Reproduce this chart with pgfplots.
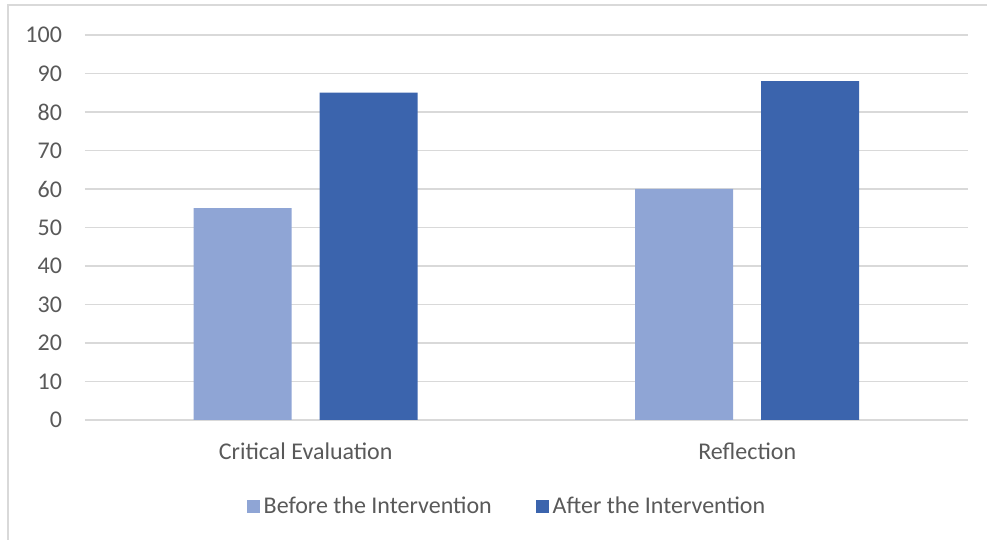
\documentclass[border=0pt]{standalone}
\usepackage{pgfplots}
\pgfplotsset{compat=1.18}
\usepackage{fontspec}
\setmainfont{Carlito}
\definecolor{txt}{HTML}{595959}
\definecolor{grd}{HTML}{D9D9D9}
\definecolor{before}{RGB}{143,165,213}
\definecolor{after}{RGB}{59,100,173}

\begin{document}
\begin{tikzpicture}
% page frame, 1px = 0.5pt
\path[use as bounding box] (-42.5pt,-60pt) rectangle (451pt,210pt);
\draw[grd, line width=1pt] (-38.5pt,-60pt) -- (-38.5pt,207.5pt) -- (451pt,207.5pt);
\begin{axis}[
  at={(0,0)}, anchor=south west,
  width=441.5pt, height=192.5pt, scale only axis,
  ybar=14pt, bar width=49pt,
  xmin=-0.5, xmax=1.5, ymin=0, ymax=100,
  xtick=data, xticklabels={Critical Evaluation, Reflection},
  ytick={0,10,...,100},
  ymajorgrids, grid style={grd, line width=0.8pt},
  axis x line*=bottom, axis y line*=left,
  x axis line style={grd, line width=0.8pt, -},
  y axis line style={draw=none},
  major tick length=0pt,
  tick label style={font=\fontsize{12}{14}\selectfont, text=txt},
  /pgf/number format/assume math mode=true,
  yticklabel style={anchor=east, xshift=-8pt},
  xticklabel style={yshift=-8pt},
  legend columns=2,
  legend style={at={(0.479,-0.225)}, anchor=center, draw=none,
    font=\fontsize{12}{14}\selectfont, text=txt,
    /tikz/every even column/.append style={column sep=20pt}},
  legend image code/.code={\fill[#1] (0pt,-3.25pt) rectangle (6.5pt,3.25pt);},
]
\addplot[fill=before, draw=none] coordinates {(0,55) (1,60)};
\addplot[fill=after, draw=none] coordinates {(0,85) (1,88)};
\legend{Before the Intervention, After the Intervention}
\end{axis}
\end{tikzpicture}
\end{document}
